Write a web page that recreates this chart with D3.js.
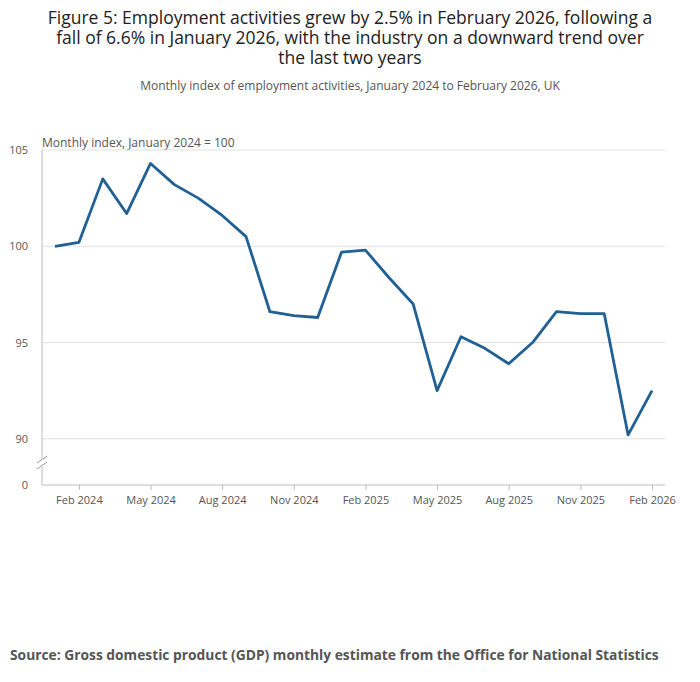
<!DOCTYPE html>
<meta charset="utf-8">
<style>
body { margin: 0; background: #fff; font-family: "Open Sans", sans-serif; }
text { font-family: "Open Sans", sans-serif; }
</style>
<svg id="svg" width="700" height="682"></svg>
<script src="https://d3js.org/d3.v7.min.js"></script>
<script>
var months = ["Jan 2024","Feb 2024","Mar 2024","Apr 2024","May 2024","Jun 2024","Jul 2024","Aug 2024","Sep 2024","Oct 2024","Nov 2024","Dec 2024",
  "Jan 2025","Feb 2025","Mar 2025","Apr 2025","May 2025","Jun 2025","Jul 2025","Aug 2025","Sep 2025","Oct 2025","Nov 2025","Dec 2025",
  "Jan 2026","Feb 2026"];
var index = [100.0,100.2,103.5,101.7,104.3,103.2,102.5,101.6,100.5,96.6,96.4,96.3,
  99.7,99.8,98.35,97.0,92.5,95.3,94.7,93.9,95.0,96.6,96.5,96.5,90.2,92.5];
var xTicks = ["Feb 2024","May 2024","Aug 2024","Nov 2024","Feb 2025","May 2025","Aug 2025","Nov 2025","Feb 2026"];
var yTicks = [90,95,100,105];

var svg = d3.select("svg");
var plotLeft = 42, plotRight = 665, plotTop = 150, plotBottom = 485;

var x = d3.scalePoint().domain(months).range([55, 652]);
var y = d3.scaleLinear().domain([87.6, 105]).range([plotBottom, plotTop]);

// titles
var title = ["Figure 5: Employment activities grew by 2.5% in February 2026, following a",
  "fall of 6.6% in January 2026, with the industry on a downward trend over",
  "the last two years"];
svg.selectAll("text.title").data(title).enter().append("text")
  .attr("x", 350).attr("y", function(d, i) { return 24 + i * 20; })
  .attr("text-anchor", "middle").attr("font-size", 17.5).attr("fill", "#222")
  .text(function(d) { return d; });
svg.append("text").attr("x", 350).attr("y", 90).attr("text-anchor", "middle")
  .attr("font-size", 12).attr("fill", "#555")
  .text("Monthly index of employment activities, January 2024 to February 2026, UK");
svg.append("text").attr("x", plotLeft).attr("y", 147).attr("font-size", 12).attr("fill", "#555")
  .text("Monthly index, January 2024 = 100");

// grid
var g = svg.append("g");
g.selectAll("line.grid").data(yTicks).enter().append("line")
  .attr("x1", plotLeft).attr("x2", plotRight)
  .attr("y1", function(d) { return y(d); }).attr("y2", function(d) { return y(d); })
  .attr("stroke", "#e0e0e0");
g.selectAll("text.yl").data(yTicks).enter().append("text")
  .attr("x", 28).attr("y", function(d) { return y(d) + 4; })
  .attr("text-anchor", "end").attr("font-size", 11).attr("fill", "#555")
  .text(function(d) { return d; });
g.append("text").attr("x", 28).attr("y", plotBottom + 4).attr("text-anchor", "end")
  .attr("font-size", 11).attr("fill", "#555").text("0");

// y axis with break
g.append("line").attr("x1", plotLeft).attr("x2", plotLeft).attr("y1", plotTop).attr("y2", 458).attr("stroke", "#bbb");
g.append("line").attr("x1", plotLeft).attr("x2", plotLeft).attr("y1", 467).attr("y2", plotBottom).attr("stroke", "#bbb");
g.append("line").attr("x1", 37).attr("x2", 47).attr("y1", 463).attr("y2", 456).attr("stroke", "#999");
g.append("line").attr("x1", 37).attr("x2", 47).attr("y1", 469).attr("y2", 462).attr("stroke", "#999");

// x axis
var xa = svg.append("g").attr("transform", "translate(0," + plotBottom + ")")
  .call(d3.axisBottom(x).tickValues(xTicks).tickSize(5).tickPadding(6));
xa.select(".domain").attr("d", "M" + plotLeft + ",0H" + plotRight).attr("stroke", "#bbb");
xa.selectAll(".tick line").attr("stroke", "#bbb");
xa.selectAll(".tick text").attr("font-size", 11).attr("fill", "#555").attr("font-family", "Open Sans");

// line
svg.append("path").datum(index)
  .attr("fill", "none").attr("stroke", "#206095").attr("stroke-width", 2.8)
  .attr("stroke-linejoin", "round")
  .attr("d", d3.line().x(function(d, i) { return x(months[i]); }).y(function(d) { return y(d); }));

svg.append("text").attr("x", 10).attr("y", 660).attr("font-size", 13.8).attr("font-weight", "bold")
  .attr("fill", "#555").text("Source: Gross domestic product (GDP) monthly estimate from the Office for National Statistics");
</script>
